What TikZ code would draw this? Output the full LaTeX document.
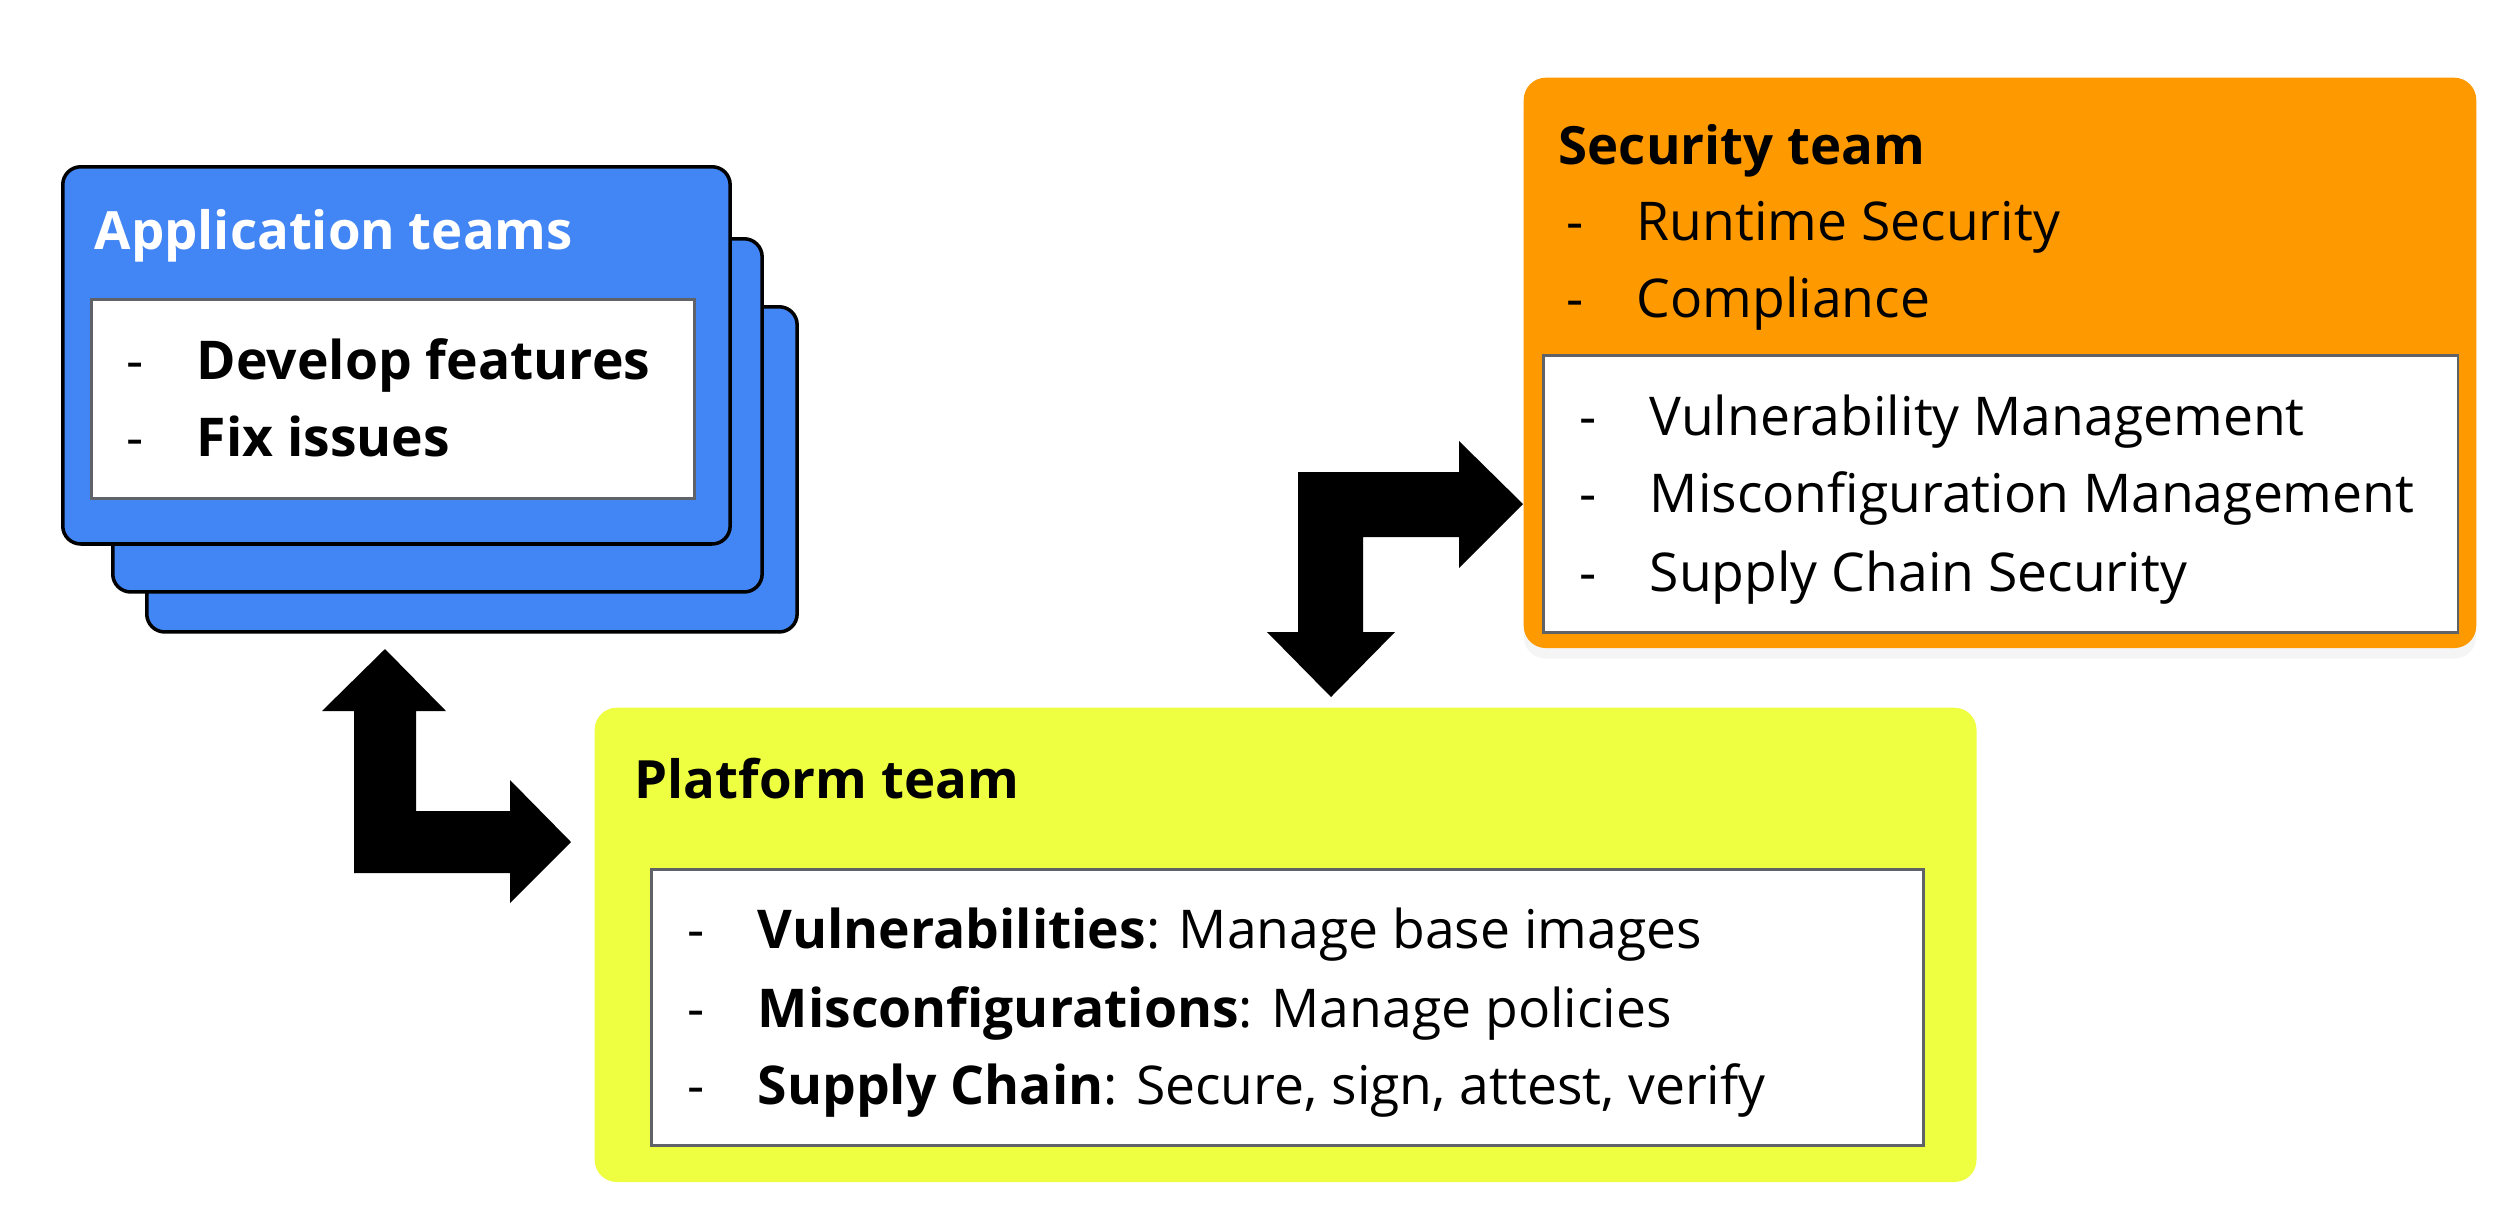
\documentclass[tikz,border=0pt]{standalone}
\usepackage{fontspec}
\setmainfont{Open Sans}[Ligatures=NoCommon]
\usepackage{tikz}
\usetikzlibrary{shadows}

\definecolor{appblue}{HTML}{4285F4}
\definecolor{secorange}{HTML}{FF9900}
\definecolor{platyellow}{HTML}{EEFF41}
\definecolor{listgray}{HTML}{5F6368}

\tikzset{
        card/.style={rectangle, anchor=north west, inner sep=0pt},
        appcard/.style={card, fill=appblue, draw=black, line width=1pt, rounded corners=0.18cm},
        teamcard/.style={card, rounded corners=0.22cm},
        listbox/.style={card, fill=white, draw=listgray, line width=0.8pt},
        title/.style={anchor=base west, inner sep=0pt, font=\fontsize{15}{18}\selectfont\bfseries},
        item/.style={anchor=base west, inner sep=0pt, font=\fontsize{15.2}{18}\selectfont},
        bigarrow/.style={fill=black},
}
\newcommand{\entry}[1]{\makebox[0.70cm][l]{-}#1}

\begin{document}
\begin{tikzpicture}[x=0.01cm, y=-0.01cm]
        \useasboundingbox (0,0) rectangle (2496,1214);

        \node[appcard, minimum width=6.50cm, minimum height=3.25cm] (app-back) at (145,305) {};
        \node[appcard, minimum width=6.49cm, minimum height=3.53cm] (app-mid) at (111,237) {};
        \node[appcard, minimum width=6.67cm, minimum height=3.77cm] (app-front) at (61,165) {};
        \node[listbox, minimum width=6.03cm, minimum height=1.99cm] (app-list) at (90,298) {};
        \node[title, text=white] (app-title) at (94,249) {Application teams};
        \node[item] (app-dev) at (126,379) {\entry{\textbf{Develop features}}};
        \node[item] (app-fix) at (126,456) {\entry{\textbf{Fix issues}}};

        \node[teamcard, fill=secorange, minimum width=9.52cm, minimum height=5.70cm,
              drop shadow={opacity=0.08, shadow xshift=0pt, shadow yshift=-3pt}] (sec) at (1523,77) {};
        \node[listbox, minimum width=9.14cm, minimum height=2.77cm] (sec-list) at (1542,354) {};
        \node[title] (sec-title) at (1558,164) {Security team};
        \node[item] (sec-run) at (1566,240) {\entry{Runtime Security}};
        \node[item] (sec-comp) at (1566,317) {\entry{Compliance}};
        \node[item] (sec-vuln) at (1579,435) {\entry{Vulnerability Management}};
        \node[item] (sec-misc) at (1579,512) {\entry{Misconfiguration Management}};
        \node[item] (sec-supp) at (1579,591) {\entry{Supply Chain Security}};

        \node[teamcard, fill=platyellow, minimum width=13.81cm, minimum height=4.74cm] (plat) at (594,707) {};
        \node[listbox, minimum width=12.71cm, minimum height=2.76cm] (plat-list) at (650,868) {};
        \node[title] (plat-title) at (634,798) {Platform team};
        \node[item] (plat-vuln) at (687,948) {\entry{\textbf{Vulnerabilities}: Manage base images}};
        \node[item] (plat-misc) at (687,1027) {\entry{\textbf{Misconfigurations}: Manage policies}};
        \node[item] (plat-supp) at (687,1104) {\entry{\textbf{Supply Chain}: Secure, sign, attest, verify}};

        % app <-> platform
        \coordinate (app-tip) at (385,649);
        \coordinate (plat-tip) at (571,842);
        \fill[bigarrow] (app-tip) -- (446,711) -- (416,711) -- (416,811) -- (510,811) -- (510,780)
                -- (plat-tip) -- (510,903) -- (510,873) -- (354,873) -- (354,711) -- (322,711) -- cycle;

        % platform <-> security
        \coordinate (sec-tip) at (1523,504);
        \coordinate (plat-top) at (1331,697);
        \fill[bigarrow] (sec-tip) -- (1459,568) -- (1459,537) -- (1363,537) -- (1363,632) -- (1395,632)
                -- (plat-top) -- (1267,632) -- (1298,632) -- (1298,472) -- (1459,472) -- (1459,441) -- cycle;
\end{tikzpicture}
\end{document}
